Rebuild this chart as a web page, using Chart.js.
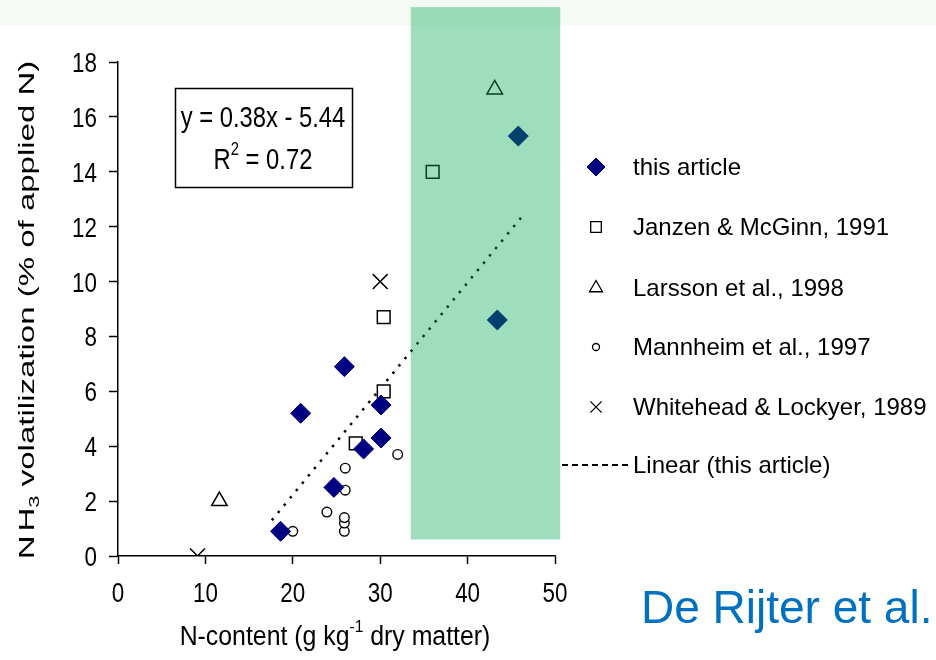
<!DOCTYPE html>
<html>
<head>
<meta charset="utf-8">
<script src="https://cdn.jsdelivr.net/npm/chart.js@4/dist/chart.umd.min.js"></script>
<style>
html, body { margin: 0; padding: 0; background: #fff; }
#wrap { width: 936px; height: 660px; }
</style>
</head>
<body>
<div id="wrap"><canvas id="nh3Chart" width="936" height="660"></canvas></div>
<script>
// series: N-content (x) vs NH3 volatilization (y)
let articleX = [18.6, 24.7, 20.9, 25.9, 30.1, 30.1, 28.1, 43.4, 45.8];
let articleY = [0.9, 2.5, 5.2, 6.9, 5.5, 4.3, 3.9, 8.6, 15.3];
let janzenX = [27.2, 30.4, 30.4, 36.0];
let janzenY = [4.1, 6.0, 8.7, 14.0];
let larssonX = [11.6, 43.1];
let larssonY = [2.0, 17.0];
let mannheimX = [20.0, 23.9, 25.9, 25.9, 25.9, 26.0, 26.0, 32.0];
let mannheimY = [0.9, 1.6, 0.9, 1.2, 1.4, 2.4, 3.2, 3.7];
let whiteheadX = [9.1, 30.0];
let whiteheadY = [0.0, 10.0];
let trendX = [17.6, 46.3];
let trendY = [1.3, 12.4];

let seriesNames = [
    "this article",
    "Janzen & McGinn, 1991",
    "Larsson et al., 1998",
    "Mannheim et al., 1997",
    "Whitehead & Lockyer, 1989",
    "Linear (this article)",
];
let xTicks = [0, 10, 20, 30, 40, 50];
let yTicks = [0, 2, 4, 6, 8, 10, 12, 14, 16, 18];
let equationLines = ["y = 0.38x - 5.44", "R", "2", " = 0.72"];
let highlightX = [33.5, 50.6];
let highlightY = [0.6, 20.0];

let plainFont = "'Liberation Sans', Arial, sans-serif";

function toPoints(xs, ys) {
    return xs.map(function(x, i) {
        return { x: x, y: ys[i] };
    });
}

//squeezed text helper (the figure text is narrow)
function drawText(ctx, text, x, y, size, sx, align, baseline) {
    ctx.save();
    ctx.translate(x, y);
    ctx.scale(sx, 1);
    ctx.font = size + "px " + plainFont;
    ctx.textAlign = align || "left";
    ctx.textBaseline = baseline || "alphabetic";
    ctx.fillStyle = "#000";
    ctx.fillText(text, 0, 0);
    ctx.restore();
}

let markerStyles = [
    { pointStyle: "rectRot", radius: 10, bg: "#000080", border: "#000080", bw: 1 },
    { pointStyle: "rect", radius: 9, bg: "#fff", border: "#000", bw: 1.5 },
    { pointStyle: "triangle", radius: 9, bg: "rgba(0,0,0,0)", border: "#000", bw: 1.5 },
    { pointStyle: "circle", radius: 4.8, bg: "#fff", border: "#000", bw: 1.4 },
    { pointStyle: "crossRot", radius: 10.5, bg: "#000", border: "#000", bw: 1.5 },
];

let pointSets = [
    toPoints(articleX, articleY),
    toPoints(janzenX, janzenY),
    toPoints(larssonX, larssonY),
    toPoints(mannheimX, mannheimY),
    toPoints(whiteheadX, whiteheadY),
];

let datasets = pointSets.map(function(pts, i) {
    let m = markerStyles[i];
    return {
        label: seriesNames[i],
        data: pts,
        pointStyle: m.pointStyle,
        pointRadius: m.radius,
        pointBackgroundColor: m.bg,
        pointBorderColor: m.border,
        pointBorderWidth: m.bw,
        showLine: false,
    };
});

datasets.push({
    label: seriesNames[5],
    data: toPoints(trendX, trendY),
    showLine: true,
    borderColor: "#000",
    borderWidth: 2.5,
    borderDash: [2.5, 7],
    pointRadius: 0,
    fill: false,
});

//page decorations, tick labels, legend, equation box, axis titles
let decorPlugin = {
    id: "decor",
    beforeDraw: function(chart) {
        let ctx = chart.ctx;
        ctx.save();
        ctx.fillStyle = "#fff";
        ctx.fillRect(0, 0, chart.width, chart.height);
        ctx.fillStyle = "#f5faf6";
        ctx.fillRect(0, 0, chart.width, 25);
        ctx.restore();
    },
    afterDraw: function(chart) {
        let ctx = chart.ctx;
        let xs = chart.scales.x;
        let ys = chart.scales.y;

        //tick labels (narrow lettering)
        xTicks.forEach(function(v) {
            drawText(ctx, String(v), xs.getPixelForValue(v), 602, 28, 0.8, "center");
        });
        yTicks.forEach(function(v) {
            drawText(ctx, String(v), 97, ys.getPixelForValue(v) + 10, 28, 0.8, "right");
        });

        //equation box
        ctx.save();
        ctx.strokeStyle = "#000";
        ctx.lineWidth = 1.5;
        ctx.strokeRect(175.5, 88.5, 177, 99);
        drawText(ctx, equationLines[0], 263, 127, 29, 0.82, "center");
        ctx.font = "29px " + plainFont;
        let rW = ctx.measureText(equationLines[1]).width * 0.82;
        let restW = ctx.measureText(equationLines[3]).width * 0.82;
        ctx.font = "18px " + plainFont;
        let supW = ctx.measureText(equationLines[2]).width * 0.82;
        let sx0 = 263 - (rW + supW + restW) / 2;
        drawText(ctx, equationLines[1], sx0, 169, 29, 0.82, "left");
        drawText(ctx, equationLines[2], sx0 + rW, 155, 18, 0.82, "left");
        drawText(ctx, equationLines[3], sx0 + rW + supW, 169, 29, 0.82, "left");
        ctx.restore();

        //y title, rotated with subscript
        ctx.save();
        ctx.translate(34, 310);
        ctx.rotate(-Math.PI / 2);
        ctx.scale(1, 0.66);
        ctx.fillStyle = "#000";
        ctx.textBaseline = "alphabetic";
        ctx.font = "33px " + plainFont;
        let p1 = "NH", p3 = " volatilization (% of applied N)";
        let w1 = ctx.measureText(p1).width + 4;
        let w3 = ctx.measureText(p3).width;
        ctx.font = "22px " + plainFont;
        let w2 = ctx.measureText("3").width;
        let start = -(w1 + w2 + w3) / 2;
        ctx.font = "33px " + plainFont;
        ctx.fillText("N", start, 0);
        ctx.fillText("H", start + ctx.measureText("N").width + 4, 0);
        ctx.fillText(p3, start + w1 + w2, 0);
        ctx.font = "22px " + plainFont;
        ctx.fillText("3", start + w1, 8);
        ctx.restore();

        //x title with superscript
        ctx.save();
        let q1 = "N-content (g kg", q2 = "-1", q3 = " dry matter)";
        let sxT = 0.92;
        ctx.font = "27px " + plainFont;
        let a1 = ctx.measureText(q1).width * sxT;
        let a3 = ctx.measureText(q3).width * sxT;
        ctx.font = "17px " + plainFont;
        let a2 = ctx.measureText(q2).width * sxT;
        let tx = 335 - (a1 + a2 + a3) / 2;
        drawText(ctx, q1, tx, 645, 27, sxT, "left");
        drawText(ctx, q2, tx + a1, 632, 17, sxT, "left");
        drawText(ctx, q3, tx + a1 + a2, 645, 27, sxT, "left");
        ctx.restore();

        //legend
        let rowsY = [167, 227, 288, 347, 407, 465];
        let legendR = [9, 7.5, 7.5, 3.5, 8];
        ctx.save();
        for (let i = 0; i < 5; i++) {
            let m = markerStyles[i];
            ctx.fillStyle = m.bg;
            ctx.strokeStyle = m.border;
            ctx.lineWidth = i === 0 ? 1 : 1.3;
            Chart.helpers.drawPoint(ctx, {
                pointStyle: m.pointStyle,
                radius: legendR[i],
                borderWidth: ctx.lineWidth,
            }, 596, rowsY[i]);
        }
        ctx.strokeStyle = "#000";
        ctx.lineWidth = 2;
        ctx.setLineDash([6, 4]);
        ctx.beginPath();
        ctx.moveTo(562, rowsY[5]);
        ctx.lineTo(630, rowsY[5]);
        ctx.stroke();
        ctx.setLineDash([]);
        ctx.fillStyle = "#000";
        ctx.font = "24px " + plainFont;
        ctx.textBaseline = "middle";
        ctx.textAlign = "left";
        for (let i = 0; i < 6; i++) {
            ctx.fillText(seriesNames[i], 633, rowsY[i] + 1);
        }
        ctx.restore();

        //green highlight band drawn over the points
        ctx.save();
        let hx0 = xs.getPixelForValue(highlightX[0]);
        let hx1 = xs.getPixelForValue(highlightX[1]);
        let hy0 = ys.getPixelForValue(highlightY[1]);
        let hy1 = ys.getPixelForValue(highlightY[0]);
        ctx.fillStyle = "rgba(0, 168, 80, 0.38)";
        ctx.fillRect(hx0, hy0, hx1 - hx0, hy1 - hy0);
        ctx.restore();

        //author tag
        ctx.save();
        ctx.fillStyle = "#0070c0";
        ctx.font = "46px " + plainFont;
        ctx.textBaseline = "alphabetic";
        ctx.fillText("De Rijter et al.", 641, 623);
        ctx.restore();
    },
};

let chartCanvas = document.getElementById("nh3Chart").getContext("2d");

new Chart(chartCanvas, {
    type: "scatter",
    data: { datasets: datasets },
    options: {
        responsive: false,
        animation: false,
        devicePixelRatio: 1,
        layout: {
            padding: { left: 0, top: 62, right: 381, bottom: 0 },
        },
        plugins: {
            legend: { display: false },
            tooltip: { enabled: false },
        },
        scales: {
            x: {
                type: "linear",
                min: xTicks[0],
                max: xTicks[xTicks.length - 1],
                afterBuildTicks: function(scale) {
                    scale.ticks = xTicks.map(function(v) { return { value: v }; });
                },
                afterFit: function(scale) {
                    scale.height = 104;
                },
                grid: {
                    drawOnChartArea: false,
                    drawTicks: true,
                    tickLength: 8,
                    tickWidth: 1.5,
                    tickColor: "#000",
                },
                border: { display: true, color: "#000", width: 1.5 },
                ticks: { display: false },
            },
            y: {
                type: "linear",
                min: yTicks[0],
                max: yTicks[yTicks.length - 1],
                afterBuildTicks: function(scale) {
                    scale.ticks = yTicks.map(function(v) { return { value: v }; });
                },
                afterFit: function(scale) {
                    scale.width = 118;
                },
                grid: {
                    drawOnChartArea: false,
                    drawTicks: true,
                    tickLength: 9,
                    tickWidth: 1.5,
                    tickColor: "#000",
                },
                border: { display: true, color: "#000", width: 1.5 },
                ticks: { display: false },
            },
        },
    },
    plugins: [decorPlugin],
});
</script>
</body>
</html>
